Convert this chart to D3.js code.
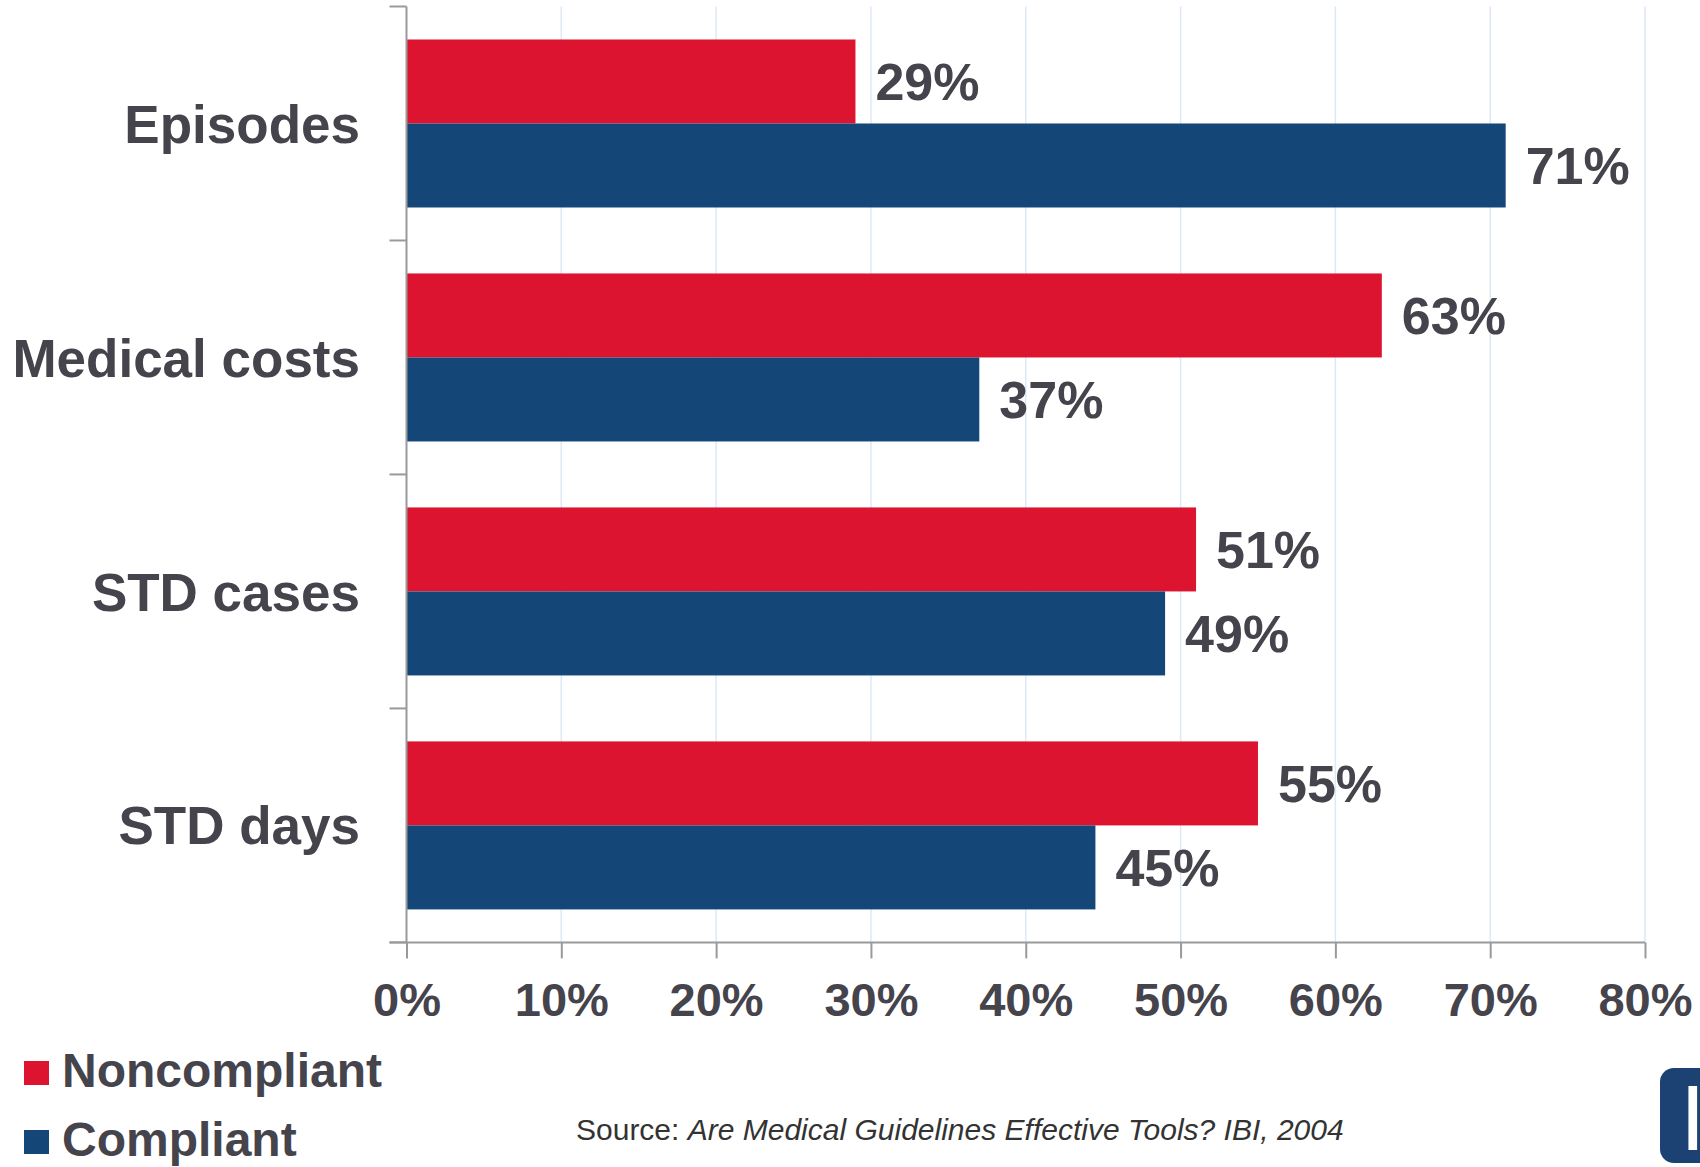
<!DOCTYPE html>
<html>
<head>
<meta charset="utf-8">
<script src="https://cdn.jsdelivr.net/npm/d3@7"></script>
<style>
  body { margin: 0; background: #fff; }
  svg { display: block; }
  text { font-family: "Liberation Sans", Arial, sans-serif; }
</style>
</head>
<body>
<div id="chart-area"></div>
<script>
const categories = ["Episodes", "Medical costs", "STD cases", "STD days"];
const series = ["Noncompliant", "Compliant"];
const noncompliant = [29, 63, 51, 55];
const compliant = [71, 37, 49, 44.5];
const xTicks = [0, 10, 20, 30, 40, 50, 60, 70, 80];

const colors = { Noncompliant: "#dc142f", Compliant: "#144777" };
const textColor = "#45434b";

const width = 1700, height = 1167;
const plot = { left: 406.5, right: 1645, top: 6.5, bottom: 942.4 };

const svg = d3.select("#chart-area")
    .append("svg")
    .attr("width", width)
    .attr("height", height);

const x = d3.scaleLinear()
    .domain([0, 80])
    .range([plot.left, plot.right]);

const y = d3.scaleBand()
    .domain(categories)
    .range([plot.top, plot.bottom]);

// bars sit inside each band with a gap above and below
const gap = y.bandwidth() * 0.141;
const ySub = d3.scaleBand()
    .domain(series)
    .range([gap, y.bandwidth() - gap]);

// grid
svg.append("g")
    .selectAll("line")
    .data(xTicks.slice(1))
    .join("line")
    .attr("x1", d => x(d)).attr("x2", d => x(d))
    .attr("y1", plot.top).attr("y2", plot.bottom)
    .attr("stroke", "#dde9f5")
    .attr("stroke-width", 1.5);

const rows = categories.map((c, i) => ({
    cat: c,
    values: [
        { key: "Noncompliant", v: noncompliant[i] },
        { key: "Compliant", v: compliant[i] }
    ]
}));

const groups = svg.append("g")
    .selectAll("g")
    .data(rows)
    .join("g")
    .attr("transform", d => `translate(0, ${y(d.cat)})`);

groups.selectAll("rect")
    .data(d => d.values)
    .join("rect")
    .attr("x", x(0))
    .attr("y", d => ySub(d.key))
    .attr("width", d => x(d.v) - x(0))
    .attr("height", ySub.bandwidth())
    .attr("fill", d => colors[d.key]);

groups.selectAll("text.val")
    .data(d => d.values)
    .join("text")
    .attr("class", "val")
    .attr("x", d => x(d.v) + 20)
    .attr("y", d => ySub(d.key) + ySub.bandwidth() / 2)
    .attr("dy", "0.36em")
    .attr("font-size", "52px")
    .attr("font-weight", "bold")
    .attr("fill", textColor)
    .text(d => Math.round(d.v) + "%");

// y axis
svg.append("line")
    .attr("x1", plot.left).attr("x2", plot.left)
    .attr("y1", plot.top).attr("y2", plot.bottom)
    .attr("stroke", "#9a9a9a").attr("stroke-width", 2);

const bounds = categories.map(c => y(c)).concat([plot.bottom]);
svg.append("g")
    .selectAll("line")
    .data(bounds)
    .join("line")
    .attr("x1", plot.left - 17).attr("x2", plot.left)
    .attr("y1", d => d).attr("y2", d => d)
    .attr("stroke", "#9a9a9a").attr("stroke-width", 2);

svg.append("g")
    .selectAll("text")
    .data(categories)
    .join("text")
    .attr("x", 360)
    .attr("y", d => y(d) + y.bandwidth() / 2)
    .attr("dy", "0.36em")
    .attr("text-anchor", "end")
    .attr("font-size", "53px")
    .attr("font-weight", "bold")
    .attr("fill", textColor)
    .text(d => d);

// x axis
const xAxis = svg.append("g")
    .attr("transform", `translate(0, ${plot.bottom})`)
    .call(d3.axisBottom(x).tickValues(xTicks).tickSize(16).tickSizeOuter(0).tickFormat(d => d + "%"));

xAxis.select(".domain").remove();
xAxis.append("line")
    .attr("x1", plot.left - 17).attr("x2", plot.right)
    .attr("stroke", "#9a9a9a").attr("stroke-width", 2);
xAxis.selectAll(".tick line")
    .attr("stroke", "#9a9a9a").attr("stroke-width", 2);
xAxis.selectAll(".tick text")
    .attr("y", 74)
    .attr("dy", 0)
    .attr("font-size", "47px")
    .attr("font-weight", "bold")
    .attr("font-family", "Liberation Sans, Arial, sans-serif")
    .attr("fill", textColor);

// legend
const legend = svg.append("g")
    .selectAll("g")
    .data(series)
    .join("g")
    .attr("transform", (d, i) => `translate(24, ${1061 + i * 69})`);

legend.append("rect")
    .attr("width", 25).attr("height", 24)
    .attr("fill", d => colors[d]);

legend.append("text")
    .attr("x", 38)
    .attr("y", 26)
    .attr("font-size", "48px")
    .attr("font-weight", "bold")
    .attr("fill", textColor)
    .text(d => d);

// source
const src = svg.append("text")
    .attr("x", 576)
    .attr("y", 1140)
    .attr("font-size", "30px")
    .attr("fill", "#333");
src.append("tspan").text("Source: ");
src.append("tspan").attr("font-style", "italic")
    .text("Are Medical Guidelines Effective Tools? IBI, 2004");

// logo corner (cut by the right edge, as in the original)
svg.append("rect")
    .attr("x", 1660).attr("y", 1068)
    .attr("width", 70).attr("height", 95)
    .attr("rx", 14)
    .attr("fill", "#1b4273");
svg.append("text")
    .attr("x", 1680).attr("y", 1150)
    .attr("font-family", "Liberation Serif, serif")
    .attr("font-size", "92px")
    .attr("fill", "#fff")
    .text("I");
</script>
</body>
</html>
